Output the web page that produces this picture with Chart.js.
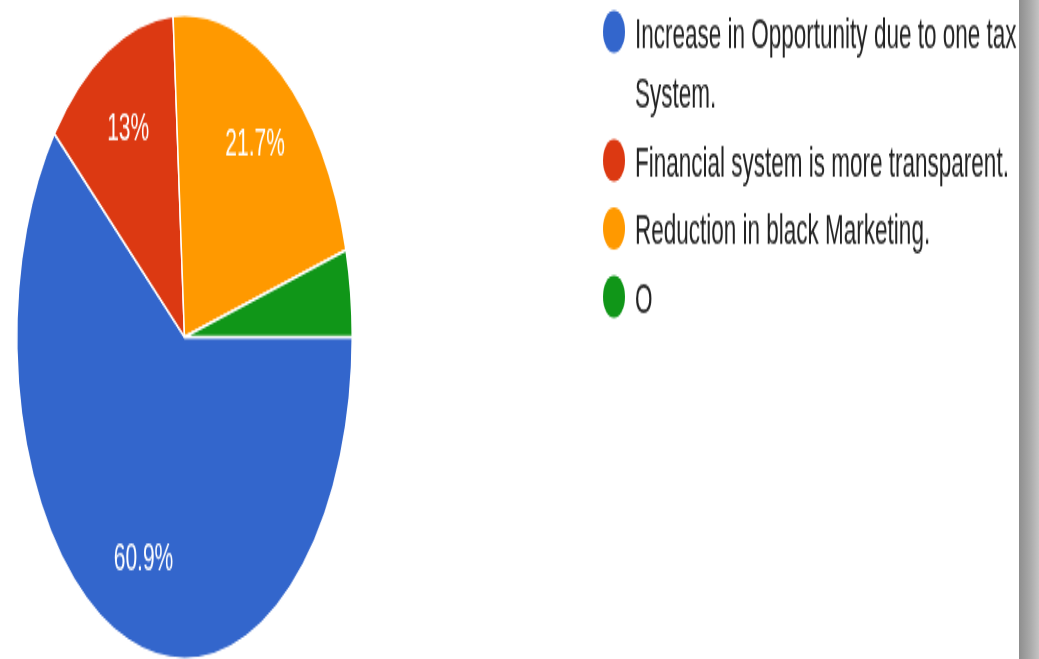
<!DOCTYPE html>
<html>
<head>
<meta charset="utf-8">
<script src="https://cdn.jsdelivr.net/npm/chart.js@4/dist/chart.umd.min.js"></script>
<style>
  html, body { margin: 0; padding: 0; background: #fff; overflow: hidden; }
  body { width: 1039px; height: 659px; position: relative; }
  /* whole chart is shown stretched tall */
  #stretch { position: absolute; left: 0; top: 0; transform: scale(1, 1.92); transform-origin: 0 0; }
  #edge { position: absolute; left: 1019px; top: 0; width: 20px; height: 659px;
          background: linear-gradient(to right, #8e8e8e, #a9a9a9 55%, #c3c3c3); }
</style>
</head>
<body>
<div id="stretch"><canvas id="pieChart" width="1039" height="344"></canvas></div>
<div id="edge"></div>
<script>
// Survey answers and number of responses
var answers = [
  "Increase in Opportunity due to one tax System.",
  "Financial system is more transparent.",
  "Reduction in black Marketing.",
  "O"
];
var responses = [14, 3, 5, 1];
var sliceColors = ["#3366cc", "#dc3912", "#ff9900", "#109618"];

var labelFont = '22.5px "Liberation Sans", Arial, sans-serif';
var pctFont = '21px "Liberation Sans", Arial, sans-serif';

// percentage text inside the bigger slices
var sliceLabels = {
  id: 'sliceLabels',
  afterDatasetsDraw: function (chart) {
    var ctx = chart.ctx;
    var data = chart.data.datasets[0].data;
    var total = data.reduce(function (a, b) { return a + b; }, 0);
    ctx.save();
    ctx.font = pctFont;
    ctx.fillStyle = '#fff';
    ctx.textAlign = 'center';
    ctx.textBaseline = 'middle';
    chart.getDatasetMeta(0).data.forEach(function (arc, i) {
      var pct = data[i] * 100 / total;
      if (pct < 5) return;
      var p = arc.getProps(['x', 'y', 'startAngle', 'endAngle', 'outerRadius'], true);
      var mid = (p.startAngle + p.endAngle) / 2;
      var r = p.outerRadius * 0.73;
      ctx.fillText(parseFloat(pct.toFixed(1)) + '%', p.x + Math.cos(mid) * r, p.y + Math.sin(mid) * r);
    });
    ctx.restore();
  }
};

// legend on the right, long labels wrap onto a second line
var sideLegend = {
  id: 'sideLegend',
  afterDraw: function (chart) {
    var ctx = chart.ctx;
    var labels = chart.data.labels;
    var colors = chart.data.datasets[0].backgroundColor;
    var x = 635, y = 24.5, lineH = 31.5, gap = 4, maxW = 400;
    ctx.save();
    ctx.font = labelFont;
    ctx.textBaseline = 'alphabetic';
    ctx.textAlign = 'left';
    labels.forEach(function (text, i) {
      var words = text.split(' ');
      var lines = [], cur = '';
      words.forEach(function (w) {
        var test = cur ? cur + ' ' + w : w;
        if (ctx.measureText(test).width > maxW && cur) {
          lines.push(cur);
          cur = w;
        } else {
          cur = test;
        }
      });
      lines.push(cur);

      ctx.fillStyle = colors[i];
      ctx.beginPath();
      ctx.arc(614, y - 8, 11, 0, Math.PI * 2);
      ctx.fill();

      ctx.fillStyle = '#222';
      lines.forEach(function (ln, j) {
        ctx.fillText(ln, x, y + j * lineH);
      });
      y += lines.length * lineH + gap;
    });
    ctx.restore();
  }
};

var ctxP = document.getElementById("pieChart").getContext('2d');
var myPieChart = new Chart(ctxP, {
  type: 'pie',
  plugins: [sliceLabels, sideLegend],
  data: {
    labels: answers,
    datasets: [{
      data: responses,
      backgroundColor: sliceColors,
      borderColor: '#ffffff',
      borderWidth: 1.5
    }]
  },
  options: {
    responsive: false,
    animation: false,
    rotation: 90,
    layout: { padding: { left: 14, right: 684, top: 7, bottom: 0 } },
    plugins: {
      legend: { display: false },
      tooltip: { enabled: false }
    }
  }
});
</script>
</body>
</html>
